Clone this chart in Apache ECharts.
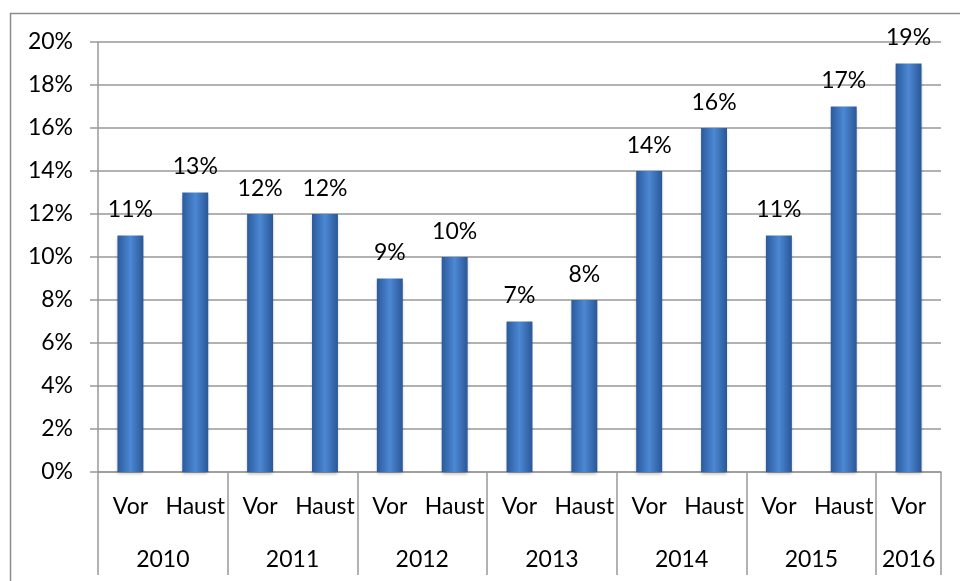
<!DOCTYPE html>
<html>
<head>
<meta charset="utf-8">
<script src="https://cdn.jsdelivr.net/npm/echarts@6/dist/echarts.min.js"></script>
<style>html,body{margin:0;padding:0;background:#fff}#c{width:960px;height:581px}</style>
</head>
<body>
<div id="c"></div>
<script>
const categories = ["Vor","Haust","Vor","Haust","Vor","Haust","Vor","Haust","Vor","Haust","Vor","Haust","Vor"];
const years = ["2010","2011","2012","2013","2014","2015","2016"];
const yearBounds = [0,2,4,6,8,10,12,13];
const yearCenters = [1,3,5,7,9,11,12.5];
const values = [0.11,0.13,0.12,0.12,0.09,0.10,0.07,0.08,0.14,0.16,0.11,0.17,0.19];

const FONT = 'Lato';
const FS = 23;
const chart = echarts.init(document.getElementById('c'), null, {renderer:'canvas'});
const pct = v => Math.round(v*100) + '%';
chart.setOption({
  animation: false,
  textStyle: {fontFamily: FONT},
  graphic: [{type:'rect', shape:{x:10.5, y:13.5, width:1000, height:600}, style:{fill:'none', stroke:'#8c8c8c', lineWidth:1.5}, silent:true}],
  grid: {left: 98, right: 19, top: 42, bottom: 109},
  xAxis: [{
    type: 'category', data: categories,
    axisLine: {lineStyle:{color:'#999', width:1.5}},
    axisTick: {length: 51, lineStyle:{color:'#999', width:1.5}},
    axisLabel: {color:'#000', fontSize:FS, fontFamily:FONT, margin:23, interval:0}
  },{
    type: 'value', min: 0, max: 13, position:'bottom',
    axisLine:{show:false}, splitLine:{show:false},
    axisTick:{show:true, length:103, customValues: yearBounds, lineStyle:{color:'#999', width:1.5}},
    axisLabel:{color:'#000', fontSize:FS, fontFamily:FONT, margin:76, customValues: yearCenters,
      formatter: v => years[yearCenters.indexOf(v)]}
  }],
  yAxis: {
    type:'value', min:0, max:0.20, interval:0.02,
    axisLine:{show:true, lineStyle:{color:'#999', width:1.5}},
    axisTick:{show:true, length:8, lineStyle:{color:'#999', width:1.5}},
    splitLine:{lineStyle:{color:'#999', width:1.5}},
    axisLabel:{color:'#000', fontSize:FS, fontFamily:FONT, margin:25, formatter: pct}
  },
  series: [{
    type:'bar', data: values, barWidth:'40%', xAxisIndex:0,
    itemStyle:{
      color: new echarts.graphic.LinearGradient(0,0,1,0,[
        {offset:0, color:'#2b5a9c'},{offset:0.5, color:'#4c88d4'},{offset:1, color:'#2a5796'}]),
      shadowColor:'rgba(0,0,0,0.25)', shadowBlur:3, shadowOffsetY:2
    },
    label:{show:true, position:'top', distance:14, color:'#000', fontSize:FS, fontFamily:FONT, formatter: p => pct(p.value)}
  }]
});
</script>
</body>
</html>
